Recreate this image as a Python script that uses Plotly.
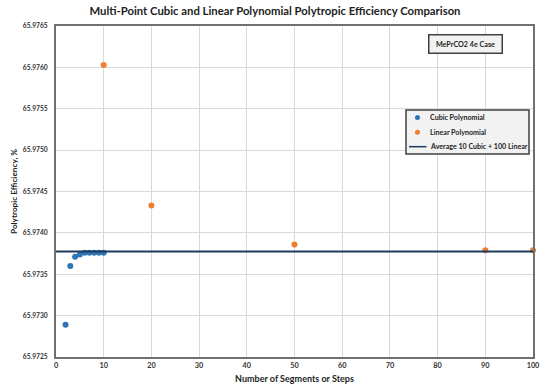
import plotly.graph_objects as go

cubic_x = [2, 3, 4, 5, 6, 7, 8, 9, 10]
cubic_y = [65.97289, 65.97360, 65.97371, 65.97374, 65.97376, 65.97376, 65.97376, 65.97376, 65.97376]
linear_x = [10, 20, 50, 90, 100]
linear_y = [65.97603, 65.97433, 65.97386, 65.97379, 65.97379]
avg_x = [0, 100]
avg_y = [65.973775, 65.973775]

title = "Multi-Point Cubic and Linear Polynomial Polytropic Efficiency Comparison"
x_title = "Number of Segments or Steps"
y_title = "Polytropic Efficiency, %"
case_label = "MePrCO2 4e Case"
legend_names = ["Cubic Polynomial", "Linear Polynomial", "Average 10 Cubic + 100 Linear"]
colors = ["#2E75B6", "#ED7D31", "#1F3A5F"]

FONT = "Lato, 'Open Sans', sans-serif"
W, H = 550, 390
L, R, T, B = 56, 17, 26, 33
PW, PH = W - L - R, H - T - B


def px(xp):
    return (xp - L) / PW


def py(yp):
    return (H - B - yp) / PH


fig = go.Figure()
fig.add_trace(go.Scatter(x=cubic_x, y=cubic_y, mode="markers", name=legend_names[0],
                         marker=dict(color=colors[0], size=6), cliponaxis=False))
fig.add_trace(go.Scatter(x=linear_x, y=linear_y, mode="markers", name=legend_names[1],
                         marker=dict(color=colors[1], size=6), cliponaxis=False))
fig.add_trace(go.Scatter(x=avg_x, y=avg_y, mode="lines", name=legend_names[2],
                         line=dict(color=colors[2], width=2)))

shapes = [
    # legend box
    dict(type="rect", xref="paper", yref="paper", x0=px(406), x1=px(529), y0=py(154), y1=py(110),
         fillcolor="#F2F2F2", line=dict(color="#404040", width=1.5), layer="above"),
    # legend swatches
    dict(type="circle", xref="paper", yref="paper", xsizemode="pixel", ysizemode="pixel",
         xanchor=px(417.5), yanchor=py(117.5), x0=-2.5, x1=2.5, y0=-2.5, y1=2.5,
         fillcolor=colors[0], line=dict(width=0), layer="above"),
    dict(type="circle", xref="paper", yref="paper", xsizemode="pixel", ysizemode="pixel",
         xanchor=px(417.5), yanchor=py(132.3), x0=-2.5, x1=2.5, y0=-2.5, y1=2.5,
         fillcolor=colors[1], line=dict(width=0), layer="above"),
    dict(type="line", xref="paper", yref="paper", x0=px(409), x1=px(426.5), y0=py(146.7), y1=py(146.7),
         line=dict(color=colors[2], width=1.5), layer="above"),
]

annotations = [
    dict(text="<b>" + case_label + "</b>", xref="paper", yref="paper",
         x=px(465), y=py(44), xanchor="center", yanchor="middle", showarrow=False,
         bgcolor="#F2F2F2", bordercolor="#404040", borderwidth=1.5, borderpad=3,
         width=66, height=11, font=dict(size=7.2, color="#222222")),
]
for name, yp in zip(legend_names, [117.5, 132.3, 146.7]):
    annotations.append(dict(text="<b>" + name + "</b>", xref="paper", yref="paper",
                            x=px(427.5), y=py(yp), xanchor="left", yanchor="middle", showarrow=False,
                            font=dict(size=7.1, color="#222222")))

fig.update_layout(
    width=W, height=H,
    margin=dict(l=L, r=R, t=T, b=B, autoexpand=False),
    paper_bgcolor="white", plot_bgcolor="white",
    font=dict(family=FONT, size=8, color="#333333"),
    title=dict(text="<b>" + title + "</b>", x=0.5, xanchor="center", y=1 - 11 / H, yanchor="middle",
               font=dict(size=11.3, color="#222222")),
    showlegend=False,
    shapes=shapes,
    annotations=annotations,
)
fig.update_xaxes(range=[0, 100], dtick=10, tickformat="d", automargin=False,
                 showgrid=True, gridcolor="#D9D9D9", gridwidth=1,
                 showline=True, linecolor="#707070", linewidth=2, mirror=True,
                 ticks="", zeroline=False,
                 tickfont=dict(size=7.3, family=FONT, color="#333333"),
                 tickprefix="<b>", ticksuffix="</b>",
                 title=dict(text="<b>" + x_title + "</b>", font=dict(size=9, color="#222222"), standoff=7))
fig.update_yaxes(range=[65.9725, 65.9765], dtick=0.0005, tickformat=".4f", automargin=False,
                 showgrid=True, gridcolor="#D9D9D9", gridwidth=1,
                 showline=True, linecolor="#707070", linewidth=2, mirror=True,
                 ticks="", zeroline=False,
                 tickfont=dict(size=6.7, family=FONT, color="#333333"),
                 tickprefix="<b>", ticksuffix="</b>", ticklabelstandoff=5,
                 title=dict(text="<b>" + y_title + "</b>", font=dict(size=8.2, color="#222222"), standoff=4))

fig.write_html("out.html", post_script="document.body.style.margin='0';",
               config={"displayModeBar": False})
